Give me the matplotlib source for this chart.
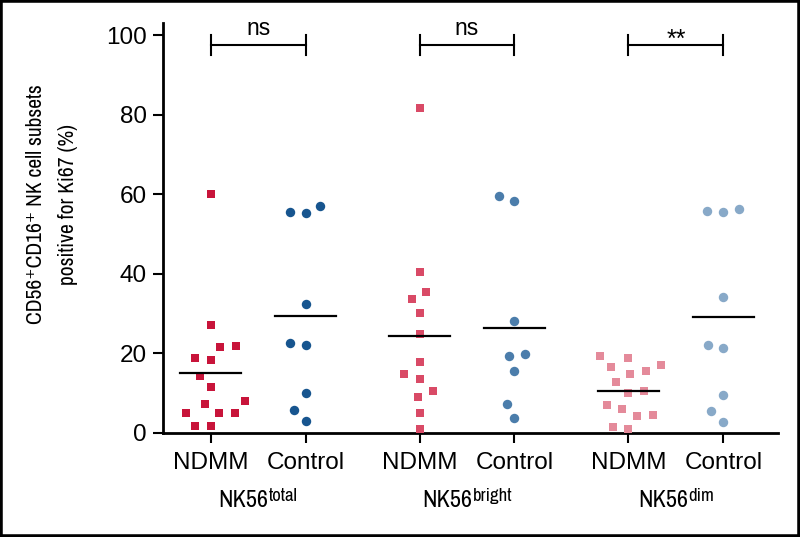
import numpy as np
import matplotlib
matplotlib.use('Agg')
import matplotlib.pyplot as plt
import matplotlib.patches as mpatches
import matplotlib.transforms as mtransforms
from matplotlib import font_manager as fm

# Ki67+ percentages per subset
ndmm_total = [60.1, 27.1, 21.9, 21.5, 18.8, 18.3, 14.3, 11.4, 8.1, 7.2, 5.1, 5.1, 5.1, 1.7, 1.6]
ctrl_total = [57.0, 55.6, 55.2, 32.3, 22.5, 22.1, 10.0, 5.8, 3.0]
ndmm_bright = [81.7, 40.4, 35.3, 33.6, 30.1, 24.8, 17.7, 14.7, 13.5, 10.6, 9.1, 5.1, 0.9]
ctrl_bright = [59.5, 58.4, 28.2, 19.8, 19.4, 15.6, 7.2, 3.7]
ndmm_dim = [19.4, 18.9, 17.0, 16.5, 15.6, 14.8, 12.7, 10.6, 10.1, 6.9, 5.9, 4.4, 4.3, 1.4, 0.9]
ctrl_dim = [56.2, 55.8, 55.5, 34.1, 22.1, 21.4, 9.4, 5.5, 2.8]

categories = ['NDMM', 'Control']
subset_base = 'NK56'
subset_sup = ['total', 'bright', 'dim']
significance = ['ns', 'ns', '**']
y_ticks = [0, 20, 40, 60, 80, 100]

groups = [(ndmm_total, ctrl_total), (ndmm_bright, ctrl_bright), (ndmm_dim, ctrl_dim)]
ndmm_colors = ['#c8143a', '#d94a66', '#e48a9a']
ctrl_colors = ['#17558f', '#4b7dab', '#88a9c8']

# look for a narrow sans for the axis titles (the original uses a condensed face)
narrow_family, narrow_stretch = 'DejaVu Sans', 'normal'
for f in fm.fontManager.ttflist:
    if 'Narrow' in f.name or 'Condensed' in f.name:
        narrow_family, narrow_stretch = f.name, 'normal'
        break
    if str(f.stretch) in ('condensed', 'semi-condensed', '500') and 'Sans' in f.name:
        narrow_family, narrow_stretch = f.name, 'condensed'


def narrow(size):
    return fm.FontProperties(family=[narrow_family, 'DejaVu Sans'], stretch=narrow_stretch, size=size)


plt.rcParams['font.family'] = ['Liberation Sans', 'DejaVu Sans']

fig = plt.figure(figsize=(8, 5.37), dpi=100)
ax = fig.add_axes([0.204, 0.194, 0.769, 0.763])
ax.set_xlim(0.5, 6.98)
ax.set_ylim(0, 103)

GROUP_STEP = 2.2


def swarm(ys, diam=16.0):
    '''simple beeswarm, offsets in data units'''
    ypx = ax.transData.transform(np.column_stack([np.zeros(len(ys)), ys]))[:, 1]
    ppu = ax.transData.transform((1, 0))[0] - ax.transData.transform((0, 0))[0]
    xs = np.zeros(len(ys))
    placed = []
    for i in np.argsort(ypx, kind='stable'):
        y = ypx[i]
        near = [(px, py) for px, py in placed if abs(py - y) < diam]
        cands = [0.0]
        for px, py in near:
            w = np.sqrt(diam ** 2 - (py - y) ** 2)
            cands += [px - w, px + w]
        cands.sort(key=abs)
        for c in cands:
            if all((c - px) ** 2 + (y - py) ** 2 >= diam ** 2 - 1e-6 for px, py in near):
                break
        xs[i] = c
        placed.append((c, y))
    return xs / ppu


tick_pos = []
for g, (ndmm, ctrl) in enumerate(groups):
    x0 = 1 + g * GROUP_STEP
    x1 = x0 + 1
    tick_pos += [x0, x1]

    off = swarm(ndmm)
    ax.plot(x0 + off, ndmm, 's', color=ndmm_colors[g], ms=6.2, mew=0, clip_on=False, zorder=3)
    off = swarm(ctrl)
    ax.plot(x1 + off, ctrl, 'o', color=ctrl_colors[g], ms=6.8, mew=0, clip_on=False, zorder=3)

    # mean lines
    for xc, vals in ((x0, ndmm), (x1, ctrl)):
        m = np.mean(vals)
        ax.plot([xc - 0.32, xc + 0.32], [m, m], color='black', lw=1.6, zorder=4)

    # significance bracket
    ax.plot([x0, x1], [97.5, 97.5], color='black', lw=1.5, clip_on=False)
    ax.plot([x0, x0], [95.0, 100.0], color='black', lw=1.5, clip_on=False)
    ax.plot([x1, x1], [95.0, 100.0], color='black', lw=1.5, clip_on=False)
    if significance[g] == '**':
        ax.text((x0 + x1) / 2, 97.0, significance[g], ha='center', va='baseline',
                fontsize=18, clip_on=False)
    else:
        ax.text((x0 + x1) / 2, 100.0, significance[g], ha='center', va='baseline',
                fontsize=16.5, clip_on=False)

ax.set_xticks(tick_pos)
ax.set_xticklabels(categories * 3)
ax.set_yticks(y_ticks)
ax.tick_params(axis='both', width=1.5, length=7, labelsize=17.5, color='black')
ax.tick_params(axis='x', pad=7)
ax.tick_params(axis='y', pad=5)
for side in ('top', 'right'):
    ax.spines[side].set_visible(False)
for side in ('left', 'bottom'):
    ax.spines[side].set_linewidth(2)

# subset labels under the category names: base + superscript, centred as a pair
LABEL_Y = 0.055
trans = mtransforms.blended_transform_factory(ax.transData, fig.transFigure)
pairs = []
for g, sup in enumerate(subset_sup):
    xc = 1 + g * GROUP_STEP + 0.5
    base = fig.text(xc, LABEL_Y, subset_base, transform=trans, ha='left', va='baseline',
                    fontproperties=narrow(17.5))
    s = fig.text(0, 0, sup, ha='left', va='baseline', fontproperties=narrow(13.5))
    pairs.append((xc, base, s))

ylab = fig.text(0.065, 0.62, 'CD56\u207aCD16\u207a NK cell subsets\npositive for Ki67 (%)',
                rotation=90, ha='center', va='center', multialignment='center',
                fontproperties=narrow(15.5), linespacing=1.75)

fig.canvas.draw()
renderer = fig.canvas.get_renderer()
for xc, base, s in pairs:
    bw = base.get_window_extent(renderer).width
    sw = s.get_window_extent(renderer).width
    shift = -(bw + sw) / 2.0
    base.set_transform(trans + mtransforms.Affine2D().translate(shift, 0))
    x_px, y_px = trans.transform((xc, LABEL_Y))
    s.set_transform(mtransforms.IdentityTransform())
    s.set_position((x_px + shift + bw + 0.5, y_px + 6))

# thin black frame round the picture
fig.patches.append(mpatches.Rectangle((0, 0), 1, 1, transform=fig.transFigure,
                                      fill=False, ec='black', lw=4))

fig.savefig('out.png', dpi=100)
